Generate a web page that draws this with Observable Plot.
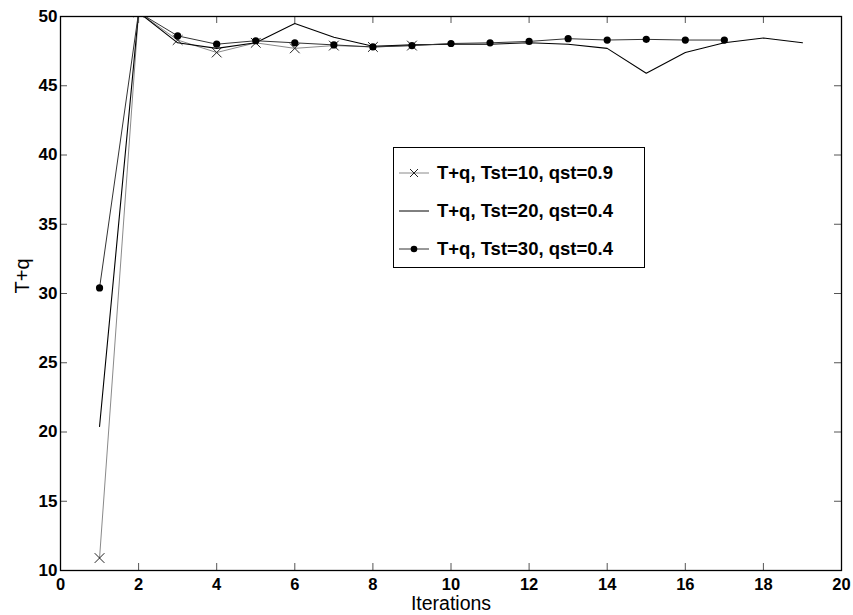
<!DOCTYPE html>
<html>
<head>
<meta charset="utf-8">
<script src="https://cdn.jsdelivr.net/npm/d3@7"></script>
<script src="https://cdn.jsdelivr.net/npm/@observablehq/plot@0.6"></script>
<style>
  html, body { margin: 0; padding: 0; background: #fff; }
  #chart { position: relative; width: 853px; height: 615px; font-family: "Liberation Sans", Arial, sans-serif; }
  #legend {
    position: absolute; left: 393px; top: 147px; width: 252px; height: 121px;
    border: 1.3px solid #000; background: #fff; box-sizing: border-box;
  }
  .entry { position: absolute; left: 5px; height: 20px; display: flex; align-items: center; }
  .entry span { font-weight: bold; font-size: 18.5px; color: #000; margin-left: 8px; white-space: nowrap; }
</style>
</head>
<body>
<div id="chart"></div>
<script>
// Iteration numbers on the x axis
const iterations = [1, 2, 3, 4, 5, 6, 7, 8, 9, 10, 11, 12, 13, 14, 15, 16, 17, 18, 19];

// T+q per iteration for the three threshold settings (the peak at iteration 2 sits just above the axis limit)
const seriesNames = ["T+q, Tst=10, qst=0.9", "T+q, Tst=20, qst=0.4", "T+q, Tst=30, qst=0.4"];
const tst10 = [10.9, 50.3, 48.3, 47.4, 48.1, 47.7, 47.9, 47.8, 47.9];
const tst20 = [20.4, 50.3, 48.1, 47.7, 48.1, 49.5, 48.5, 47.85, 47.95, 48.0, 48.0, 48.1, 48.0, 47.7, 45.9, 47.4, 48.1, 48.45, 48.1];
const tst30 = [30.4, 50.3, 48.6, 48.0, 48.25, 48.1, 47.95, 47.8, 47.9, 48.05, 48.1, 48.2, 48.4, 48.3, 48.35, 48.3, 48.3];

// Axis ticks
const xTicks = [0, 2, 4, 6, 8, 10, 12, 14, 16, 18, 20];
const yTicks = [10, 15, 20, 25, 30, 35, 40, 45, 50];

const toRows = (values) => values.map((v, i) => ({x: iterations[i], y: v}));
const rows10 = toRows(tst10);
const rows20 = toRows(tst20);
const rows30 = toRows(tst30);

const W = 853, H = 615;
const mL = 60, mR = 12, mT = 16, mB = 45;
const frameW = W - mL - mR, frameH = H - mT - mB;
const tickLen = 7;
const tickColor = "#555";

const chart = Plot.plot({
  width: W,
  height: H,
  marginLeft: mL,
  marginRight: mR,
  marginTop: mT,
  marginBottom: mB,
  style: {fontFamily: "'Liberation Sans', Arial, sans-serif", background: "#fff", overflow: "visible"},
  x: {domain: [0, 20]},
  y: {domain: [10, 50]},
  marks: [
    // inward tick marks on all four sides
    Plot.tickX(xTicks, {x: d => d, insetTop: frameH - tickLen, stroke: tickColor}),
    Plot.tickX(xTicks, {x: d => d, insetBottom: frameH - tickLen, stroke: tickColor}),
    Plot.tickY(yTicks, {y: d => d, insetRight: frameW - tickLen, stroke: tickColor}),
    Plot.tickY(yTicks, {y: d => d, insetLeft: frameW - tickLen, stroke: tickColor}),
    Plot.axisX(xTicks, {anchor: "bottom", tickSize: 0, tickPadding: 8, fontSize: 16.5, fontWeight: "bold", fill: "#000", label: null}),
    Plot.axisY(yTicks, {anchor: "left", tickSize: 0, tickPadding: 3, fontSize: 17, fontWeight: "bold", fill: "#000", label: null}),
    // series, clipped to the axes box
    Plot.line(rows10, {x: "x", y: "y", stroke: "#8a8a8a", strokeWidth: 1, clip: true}),
    Plot.dot(rows10, {x: "x", y: "y", symbol: "times", r: 4.5, stroke: "#222", strokeWidth: 1, clip: true}),
    Plot.line(rows20, {x: "x", y: "y", stroke: "#000", strokeWidth: 1.1, clip: true}),
    Plot.line(rows30, {x: "x", y: "y", stroke: "#333", strokeWidth: 1, clip: true}),
    Plot.dot(rows30, {x: "x", y: "y", r: 3.6, fill: "#000", stroke: "none", clip: true}),
    Plot.frame({stroke: "#000", strokeWidth: 1.3}),
    // axis titles
    Plot.text(["Iterations"], {frameAnchor: "bottom", dy: 39.5, fontSize: 19.5, fill: "#000"}),
    Plot.text(["T+q"], {frameAnchor: "left", dx: -38, rotate: -90, fontSize: 20, fill: "#000"})
  ]
});

const root = document.getElementById("chart");
root.appendChild(chart);

// legend box inside the plot area
const legend = document.createElement("div");
legend.id = "legend";
const swatches = [
  {stroke: "#8a8a8a", marker: "times"},
  {stroke: "#000", marker: null},
  {stroke: "#333", marker: "dot"}
];
seriesNames.forEach((name, i) => {
  const entry = document.createElement("div");
  entry.className = "entry";
  entry.style.top = (15 + i * 38) + "px";
  const s = swatches[i];
  let marker = "";
  if (s.marker === "times") marker = '<path d="M11,1L19,9M19,1L11,9" stroke="#222" stroke-width="1"/>';
  if (s.marker === "dot") marker = '<circle cx="15" cy="5" r="3.3" fill="#000"/>';
  entry.innerHTML = '<svg width="30" height="10"><line x1="0" y1="5" x2="30" y2="5" stroke="' + s.stroke + '" stroke-width="1"/>' + marker + '</svg><span>' + name + '</span>';
  legend.appendChild(entry);
});
root.appendChild(legend);
</script>
</body>
</html>
